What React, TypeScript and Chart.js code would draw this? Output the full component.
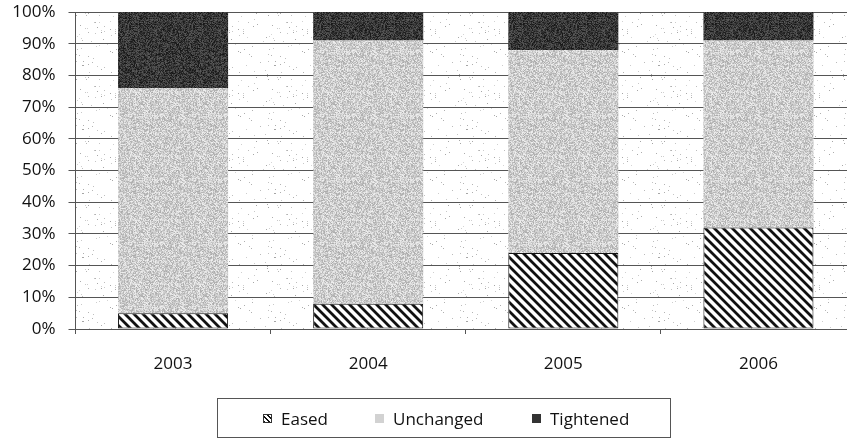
import { useEffect, useRef } from 'react';
import { Chart, ChartConfiguration, registerables } from 'chart.js';

Chart.register(...registerables);

// Data (share of respondents, %)
const years = ['2003', '2004', '2005', '2006'];
const eased = [5, 8, 24, 32];
const unchanged = [71, 83, 64, 59];
const tightened = [24, 9, 12, 9];

const FONT = "'Open Sans', 'DejaVu Sans', sans-serif";
const TEXT = '#111111';
const GRID = '#555555';

// small deterministic hash used for the print-like stipple texture
function hash(x: number, y: number, s: number) {
  let h = (x * 374761393 + y * 668265263 + s * 1442695041) | 0;
  h = Math.imul(h ^ (h >>> 13), 1274126177);
  return ((h ^ (h >>> 16)) >>> 0) / 4294967295;
}

function noisePattern(ctx: CanvasRenderingContext2D, seed: number, lo: number, hi: number, dots = 1) {
  const size = 64;
  const tile = document.createElement('canvas');
  tile.width = size;
  tile.height = size;
  const tctx = tile.getContext('2d')!;
  const img = tctx.createImageData(size, size);
  for (let y = 0; y < size; y++) {
    for (let x = 0; x < size; x++) {
      const r = hash(x, y, seed);
      let v = lo + (hi - lo) * hash(y, x, seed + 7);
      if (dots < 1 && r > dots) v = 255;
      const i = (y * size + x) * 4;
      img.data[i] = v;
      img.data[i + 1] = v;
      img.data[i + 2] = v;
      img.data[i + 3] = 255;
    }
  }
  tctx.putImageData(img, 0, 0);
  return ctx.createPattern(tile, 'repeat')!;
}

function hatchPattern(ctx: CanvasRenderingContext2D) {
  const s = 9;
  const tile = document.createElement('canvas');
  tile.width = s;
  tile.height = s;
  const t = tile.getContext('2d')!;
  t.fillStyle = '#ffffff';
  t.fillRect(0, 0, s, s);
  t.strokeStyle = '#111111';
  t.lineWidth = 2.8;
  t.beginPath();
  t.moveTo(-2, -2);
  t.lineTo(s + 2, s + 2);
  t.moveTo(-2, s - 2);
  t.lineTo(2, s + 2);
  t.moveTo(s - 2, -2);
  t.lineTo(s + 2, 2);
  t.stroke();
  return ctx.createPattern(tile, 'repeat')!;
}

const marker = (background: string, border = 'none') => ({
  display: 'inline-block',
  width: 9,
  height: 9,
  background,
  border,
  boxSizing: 'border-box' as const,
  marginRight: 9,
});

export default function App() {
  const canvasRef = useRef<HTMLCanvasElement>(null);
  const chartRef = useRef<Chart | null>(null);

  useEffect(() => {
    document.body.style.margin = '0';
    if (!canvasRef.current) return;
    if (chartRef.current) chartRef.current.destroy();
    const ctx = canvasRef.current.getContext('2d');
    if (!ctx) return;

    const bgPattern = noisePattern(ctx, 3, 165, 215, 0.02);
    const lightPattern = noisePattern(ctx, 11, 170, 240);
    const darkPattern = noisePattern(ctx, 29, 20, 90);
    const hatch = hatchPattern(ctx);

    const plotBackground = {
      id: 'plotBackground',
      beforeDraw(chart: Chart) {
        const { ctx: c, chartArea } = chart;
        if (!chartArea) return;
        c.save();
        c.fillStyle = bgPattern;
        c.fillRect(chartArea.left, chartArea.top, chartArea.right - chartArea.left, chartArea.bottom - chartArea.top);
        c.restore();
      },
    };

    const config: ChartConfiguration<'bar'> = {
      type: 'bar',
      data: {
        labels: years,
        datasets: [
          {
            label: 'Eased',
            data: eased,
            backgroundColor: hatch,
            borderColor: '#111111',
            borderWidth: 1,
            borderSkipped: false,
          },
          {
            label: 'Unchanged',
            data: unchanged,
            backgroundColor: lightPattern,
            borderWidth: 0,
          },
          {
            label: 'Tightened',
            data: tightened,
            backgroundColor: darkPattern,
            borderWidth: 0,
          },
        ],
      },
      options: {
        responsive: true,
        maintainAspectRatio: false,
        animation: false,
        events: [],
        layout: { padding: { top: 12, right: 0, bottom: 0, left: 0 } },
        datasets: {
          bar: { categoryPercentage: 1, barPercentage: 0.564 },
        },
        plugins: {
          legend: { display: false },
          tooltip: { enabled: false },
        },
        scales: {
          x: {
            stacked: true,
            afterFit: (scale) => {
              scale.height = 111;
            },
            grid: {
              offset: true,
              drawOnChartArea: false,
              drawTicks: true,
              tickLength: 5,
              color: GRID,
            },
            border: { color: GRID },
            ticks: {
              color: TEXT,
              padding: 20,
              font: { family: FONT, size: 17 },
            },
          },
          y: {
            stacked: true,
            min: 0,
            max: 100,
            afterFit: (scale) => {
              scale.width = 75.5;
              scale.paddingTop = 0;
              scale.paddingBottom = 0;
            },
            grid: {
              color: GRID,
              drawTicks: true,
              tickLength: 7,
            },
            border: { color: GRID },
            ticks: {
              stepSize: 10,
              color: TEXT,
              padding: 13,
              font: { family: FONT, size: 17 },
              callback: (v) => `${v}%`,
            },
          },
        },
      },
      plugins: [plotBackground],
    };

    chartRef.current = new Chart(ctx, config);

    return () => {
      if (chartRef.current) {
        chartRef.current.destroy();
        chartRef.current = null;
      }
    };
  }, []);

  return (
    <div style={{ position: 'relative', width: 847, height: 440, background: '#fff', overflow: 'hidden' }}>
      {/* the source picture is cropped on the right, so the plot runs past the edge */}
      <div style={{ position: 'absolute', left: 0, top: 0, width: 856, height: 440 }}>
        <canvas ref={canvasRef}></canvas>
      </div>
      <div
        style={{
          position: 'absolute',
          left: 217,
          top: 398,
          width: 454,
          height: 40,
          border: `1px solid ${GRID}`,
          boxSizing: 'border-box',
          fontFamily: FONT,
          fontSize: 17,
          color: TEXT,
        }}
      >
        <span style={{ position: 'absolute', left: 45, top: 0, height: 38, display: 'flex', alignItems: 'center' }}>
          <span style={marker('repeating-linear-gradient(45deg, #111 0px, #111 1.4px, #fff 1.4px, #fff 3.2px)', '1px solid #333')}></span>
          Eased
        </span>
        <span style={{ position: 'absolute', left: 157, top: 0, height: 38, display: 'flex', alignItems: 'center' }}>
          <span style={marker('#d2d2d2')}></span>
          Unchanged
        </span>
        <span style={{ position: 'absolute', left: 314, top: 0, height: 38, display: 'flex', alignItems: 'center' }}>
          <span style={marker('#333333')}></span>
          Tightened
        </span>
      </div>
    </div>
  );
}
